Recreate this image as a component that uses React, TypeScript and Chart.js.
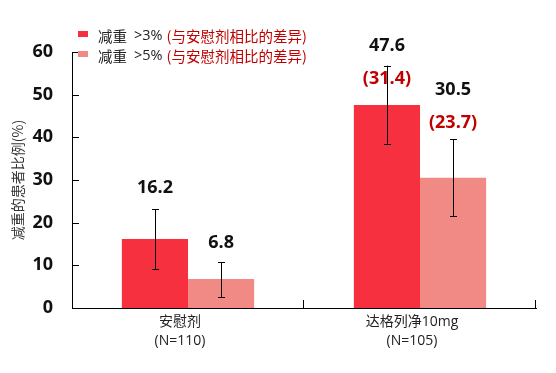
import React, { useEffect, useRef } from "react";
import { Chart, registerables } from "chart.js";

Chart.register(...registerables);

const categories = [["安慰剂", "(N=110)"], ["达格列净10mg", "(N=105)"]];
const seriesNames = ["减重 >3%", "减重 >5%"];
const legendSuffix = "(与安慰剂相比的差异)";
const loss3 = [16.2, 47.6];
const loss5 = [6.8, 30.5];
const loss3Low = [9.2, 38.5];
const loss3High = [23.2, 56.8];
const loss5Low = [2.6, 21.5];
const loss5High = [10.7, 39.5];
const diff3 = [null, 31.4];
const diff5 = [null, 23.7];
const yMin = 0;
const yMax = 60;
const yStep = 10;
const yTitle = "减重的患者比例(%)";

const FONT = "'Open Sans', 'Noto Sans CJK SC', sans-serif";
const CJK = "'Noto Sans CJK SC', 'Open Sans', sans-serif";
const RED1 = "#F7303F";
const RED2 = "#F18A84";
const DARKRED = "#C00000";

const lows = [loss3Low, loss5Low];
const highs = [loss3High, loss5High];
const diffs = [diff3, diff5];
// pixel offsets of value / difference labels from top of error bar
const labelOffsets = [
  [[-21], [-20, 13]],
  [[-19], [-50, -17]],
];

const decorPlugin = {
  id: "decor",
  afterDatasetsDraw(chart: any) {
    const ctx = chart.ctx;
    const ys = chart.scales.y;
    const xs = chart.scales.x;
    ctx.save();
    chart.data.datasets.forEach((ds: any, d: number) => {
      const meta = chart.getDatasetMeta(d);
      meta.data.forEach((el: any, i: number) => {
        const x = Math.round(el.x) + 0.5;
        const yt = ys.getPixelForValue(highs[d][i]);
        const yb = ys.getPixelForValue(lows[d][i]);
        ctx.strokeStyle = "#000";
        ctx.lineWidth = 1;
        ctx.beginPath();
        ctx.moveTo(x, yt);
        ctx.lineTo(x, yb);
        ctx.moveTo(x - 3.5, Math.round(yt) + 0.5);
        ctx.lineTo(x + 3.5, Math.round(yt) + 0.5);
        ctx.moveTo(x - 3.5, Math.round(yb) + 0.5);
        ctx.lineTo(x + 3.5, Math.round(yb) + 0.5);
        ctx.stroke();
        const offs = labelOffsets[d][i];
        ctx.font = `bold 18px ${FONT}`;
        ctx.textAlign = "center";
        ctx.textBaseline = "middle";
        ctx.fillStyle = "#111";
        ctx.fillText(ds.data[i].toFixed(1), el.x, yt + offs[0]);
        const df = diffs[d][i];
        if (df !== null && offs.length > 1) {
          ctx.fillStyle = DARKRED;
          ctx.fillText(`(${df.toFixed(1)})`, el.x, yt + offs[1]);
        }
      });
    });
    ctx.strokeStyle = "#000";
    ctx.lineWidth = 1;
    ctx.beginPath();
    for (let v = yMin; v <= yMax; v += yStep) {
      const y = Math.round(ys.getPixelForValue(v)) + 0.5;
      ctx.moveTo(xs.left, y);
      ctx.lineTo(xs.left + 7, y);
    }
    const n = categories.length;
    for (let i = 1; i <= n; i++) {
      const x = Math.round(xs.left + (i * (xs.right - xs.left)) / n) - 0.5;
      ctx.moveTo(x, ys.bottom);
      ctx.lineTo(x, ys.bottom - 8);
    }
    ctx.stroke();
    const colors = [RED1, RED2];
    seriesNames.forEach((name, k) => {
      const ry = 31 + k * 20;
      ctx.fillStyle = colors[k];
      ctx.fillRect(78, ry, 10, 6);
      ctx.textAlign = "left";
      ctx.textBaseline = "middle";
      ctx.fillStyle = "#222";
      const parts = name.split(" ");
      ctx.font = `14.5px ${CJK}`;
      ctx.fillText(parts[0], 98, ry + 5);
      let x = 98 + ctx.measureText(parts[0]).width + 7;
      ctx.font = `14.5px ${FONT}`;
      ctx.fillText(parts[1], x, ry + 5);
      x += ctx.measureText(parts[1]).width + 4;
      ctx.fillStyle = DARKRED;
      ctx.font = `14.5px ${CJK}`;
      ctx.fillText(legendSuffix, x, ry + 5);
    });
    ctx.restore();
  },
};

export default function App() {
  const ref = useRef<HTMLCanvasElement>(null);
  useEffect(() => {
    if (!ref.current) return;
    const chart = new Chart(ref.current, {
      type: "bar",
      data: {
        labels: categories,
        datasets: [
          { label: seriesNames[0], data: loss3, backgroundColor: RED1, barPercentage: 1, categoryPercentage: 0.57 },
          { label: seriesNames[1], data: loss5, backgroundColor: RED2, barPercentage: 1, categoryPercentage: 0.57 },
        ],
      },
      options: {
        responsive: false,
        animation: false,
        layout: { padding: { top: 52, right: 20, left: 0, bottom: 0 } },
        plugins: { legend: { display: false }, tooltip: { enabled: false } },
        scales: {
          x: {
            grid: { display: false, drawTicks: false },
            border: { display: true, color: "#000", width: 1 },
            ticks: { color: "#222", font: { family: FONT, size: 14, lineHeight: 1.35 }, padding: 5, labelOffset: -8, maxRotation: 0 },
            afterFit: (s: any) => { s.height = 65; },
          },
          y: {
            min: yMin,
            max: yMax,
            grid: { display: false, drawTicks: false },
            border: { display: true, color: "#000", width: 1 },
            ticks: { stepSize: yStep, color: "#111", font: { family: FONT, size: 18, weight: "bold" }, padding: 19 },
            title: { display: true, text: yTitle, color: "#333", font: { family: CJK, size: 14 }, padding: { top: 9, bottom: 0 } },
            afterFit: (s: any) => { s.width = 72; },
          },
        },
      },
      plugins: [decorPlugin],
    });
    return () => chart.destroy();
  }, []);
  return (
    <div style={{ position: "absolute", left: 0, top: 0, width: 556, height: 373, background: "#fff" }}>
      <canvas ref={ref} width={556} height={373} style={{ width: 556, height: 373 }} />
    </div>
  );
}
